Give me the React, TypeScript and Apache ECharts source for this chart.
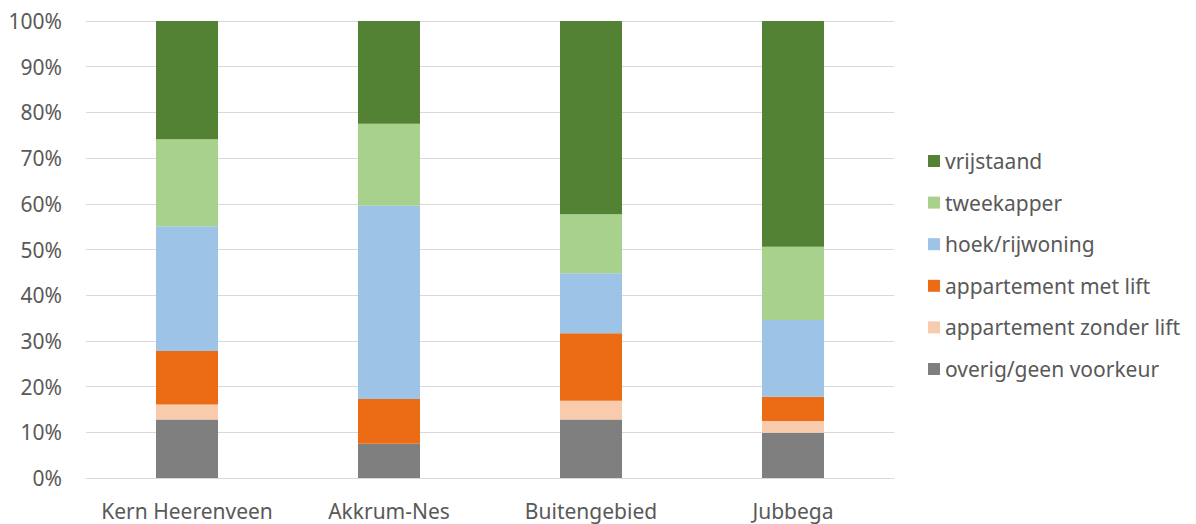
import React, { useEffect, useRef } from "react";
import * as echarts from "echarts";

// Woningvoorkeur per gebied (percentages, gestapeld tot 100%)
const categories = ["Kern Heerenveen", "Akkrum-Nes", "Buitengebied", "Jubbega"];

const overig = [12.8, 7.5, 12.8, 9.9];
const zonderLift = [3.3, 0, 4.1, 2.6];
const metLift = [11.7, 9.8, 14.8, 5.3];
const hoekRij = [27.3, 42.3, 13.1, 16.8];
const tweekapper = [19.0, 17.9, 12.9, 16.0];
const vrijstaand = [25.9, 22.5, 42.3, 49.4];

const seriesNames = [
  "overig/geen voorkeur",
  "appartement zonder lift",
  "appartement met lift",
  "hoek/rijwoning",
  "tweekapper",
  "vrijstaand",
];
const seriesColors = ["#7f7f7f", "#f8cbad", "#eb6c15", "#9dc3e6", "#a9d18e", "#548235"];
const seriesValues = [overig, zonderLift, metLift, hoekRij, tweekapper, vrijstaand];

const FONT = "'Noto Sans', Lato, sans-serif";
const TEXT_COLOR = "#595959";

export default function App() {
  const ref = useRef<HTMLDivElement>(null);

  useEffect(() => {
    if (!ref.current) return;
    const chart = echarts.init(ref.current, undefined, { renderer: "svg" });

    chart.setOption({
      animation: false,
      backgroundColor: "#ffffff",
      textStyle: { fontFamily: FONT },
      grid: { left: 86, right: 302, top: 21, bottom: 46, containLabel: false },
      legend: {
        orient: "vertical",
        left: 923,
        top: 145,
        itemWidth: 12,
        itemHeight: 12,
        itemGap: 19.6,
        icon: "rect",
        data: [...seriesNames].reverse(),
        textStyle: { color: TEXT_COLOR, fontSize: 21, lineHeight: 22, fontFamily: FONT },
      },
      xAxis: {
        type: "category",
        data: categories,
        axisLine: { show: true, lineStyle: { color: "#d9d9d9", width: 1 } },
        axisTick: { show: false },
        axisLabel: { color: TEXT_COLOR, fontSize: 21, margin: 22, interval: 0, fontFamily: FONT },
      },
      yAxis: {
        type: "value",
        min: 0,
        max: 100,
        interval: 10,
        axisLine: { show: false },
        axisTick: { show: false },
        splitLine: { lineStyle: { color: "#d9d9d9", width: 1 } },
        axisLabel: {
          color: TEXT_COLOR,
          fontSize: 21,
          margin: 24,
          fontFamily: FONT,
          formatter: (v: number) => `${v}%`,
        },
      },
      series: seriesNames.map((name, i) => ({
        name,
        type: "bar",
        stack: "totaal",
        barWidth: "30.7%",
        data: seriesValues[i],
        itemStyle: { color: seriesColors[i] },
        emphasis: { disabled: true },
      })),
    });

    return () => chart.dispose();
  }, []);

  return (
    <div
      ref={ref}
      style={{ position: "fixed", left: 0, top: 0, width: 1196, height: 524, background: "#fff" }}
    />
  );
}
